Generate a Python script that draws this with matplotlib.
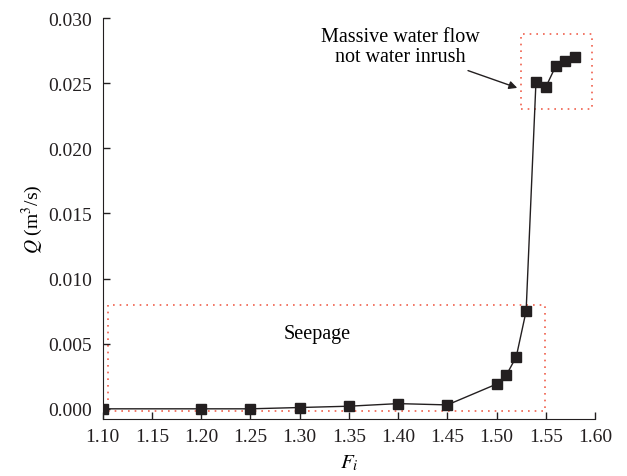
import matplotlib
matplotlib.use('Agg')
import matplotlib.pyplot as plt
from matplotlib.patches import Rectangle

# data
fi = [1.10, 1.20, 1.25, 1.30, 1.35, 1.40, 1.45, 1.50, 1.51, 1.52,
      1.53, 1.54, 1.55, 1.56, 1.57, 1.58]
q = [0.0000, 0.0000, 0.0000, 0.0001, 0.0002, 0.0004, 0.0003, 0.0019,
     0.0026, 0.0040, 0.0075, 0.0251, 0.0247, 0.0263, 0.0267, 0.0270]

xticks = [1.10, 1.15, 1.20, 1.25, 1.30, 1.35, 1.40, 1.45, 1.50, 1.55, 1.60]
yticks = [0.000, 0.005, 0.010, 0.015, 0.020, 0.025, 0.030]

plt.rcParams['font.family'] = ['Liberation Serif', 'DejaVu Serif']
plt.rcParams['mathtext.fontset'] = 'stix'

fig = plt.figure(figsize=(6.27, 4.77), dpi=100)
ax = fig.add_axes([0.164, 0.119, 0.785, 0.841])

dark = '#231f20'
ax.plot(fi, q, color=dark, lw=1.0, marker='s', ms=7.5, mfc=dark, mec=dark,
        zorder=3)

# dotted regions
red = '#f0604d'
ax.add_patch(Rectangle((1.105, -0.0002), 1.549 - 1.105, 0.0080 + 0.0002,
                       fill=False, ec=red, ls=(0, (1, 3)), lw=1.2))
ax.add_patch(Rectangle((1.525, 0.0230), 1.597 - 1.525, 0.0288 - 0.0230,
                       fill=False, ec=red, ls=(0, (1, 3)), lw=1.2))

ax.text(1.318, 0.0058, 'Seepage', ha='center', va='center', fontsize=14.5)
ax.annotate('Massive water flow\nnot water inrush', xy=(1.521, 0.02464),
            xytext=(1.402, 0.0278), ha='center', va='center', fontsize=14.5,
            linespacing=1.1,
            arrowprops=dict(arrowstyle='-|>', color=dark, lw=1.0,
                            mutation_scale=12, shrinkA=3, shrinkB=0))

ax.set_xlim(1.10, 1.60)
ax.set_ylim(-0.0008, 0.030)
ax.set_xticks(xticks)
ax.set_yticks(yticks)
ax.set_xticklabels(['%.2f' % v for v in xticks])
ax.set_yticklabels(['%.3f' % v for v in yticks])
ax.tick_params(direction='in', length=5, width=1, labelsize=14, colors=dark)
ax.tick_params(axis='x', pad=6)
ax.tick_params(axis='y', pad=8)
for s in ['top', 'right']:
    ax.spines[s].set_visible(False)
for s in ['left', 'bottom']:
    ax.spines[s].set_color(dark)
ax.set_xlabel('$F_i$', fontsize=15, labelpad=6)
ax.set_ylabel('$Q$ (m$^3$/s)', fontsize=14, labelpad=2)

fig.savefig('out.png', dpi=100)
